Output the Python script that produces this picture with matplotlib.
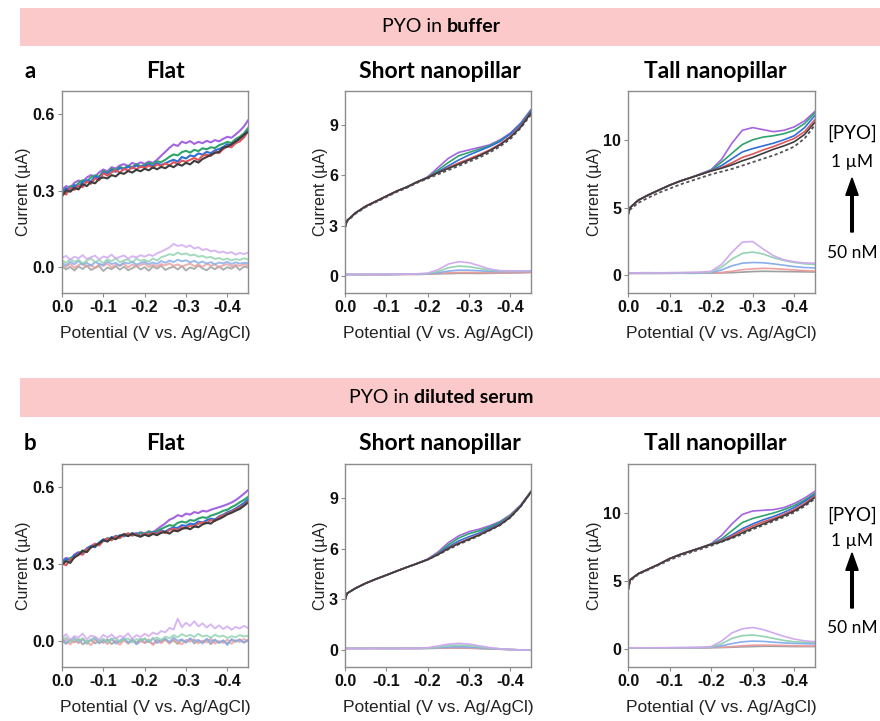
import numpy as np
import matplotlib.pyplot as plt
from matplotlib.patches import Rectangle, FancyArrow

plt.rcParams["axes.unicode_minus"] = False
plt.rcParams["font.family"] = ["Liberation Sans", "DejaVu Sans"]

W, H = 880, 721

# ---------------- data ----------------
# potential grid for flat electrodes (noisy traces, values in nA) and nanopillars (uA)
x_flat = np.linspace(0, -0.45, 46)
x_np = [0, -0.005, -0.025, -0.05, -0.075, -0.1, -0.125, -0.15, -0.175, -0.2,
        -0.225, -0.25, -0.275, -0.3, -0.325, -0.35, -0.375, -0.4, -0.425, -0.45]

conc = ["50 nM", "100 nM", "250 nM", "500 nM", "1 \u00b5M"]
colors_up = ["#3d3d3d", "#e0555a", "#2f6fd8", "#2ea36b", "#a564e0"]
colors_low = ["#9a9a9a", "#ee9b9b", "#82aaea", "#8ed1ad", "#cfa6ef"]

# --- a: buffer, flat (nA)
fa_up_50 = [278, 302, 296, 311, 305, 326, 318, 334, 329, 347, 352, 348, 361, 356, 370, 366, 377, 371, 382, 376,
            386, 380, 391, 384, 393, 388, 399, 392, 404, 398, 409, 403, 417, 410, 424, 432, 440, 448, 452, 468,
            472, 482, 492, 505, 518, 530]
fa_up_100 = [292, 285, 311, 303, 320, 314, 336, 327, 348, 341, 368, 359, 372, 380, 371, 386, 379, 392, 384, 395,
             390, 398, 389, 403, 396, 407, 399, 412, 405, 418, 413, 421, 428, 420, 437, 441, 436, 452, 447, 463,
             474, 470, 486, 493, 508, 532]
fa_up_250 = [296, 310, 302, 322, 316, 333, 341, 336, 355, 349, 372, 365, 381, 374, 389, 383, 394, 388, 399, 392,
             397, 403, 396, 408, 401, 407, 415, 421, 414, 432, 426, 438, 434, 446, 441, 452, 447, 458, 463, 471,
             482, 478, 494, 502, 516, 537]
fa_up_500 = [300, 292, 318, 311, 330, 341, 336, 352, 360, 355, 377, 370, 386, 381, 393, 387, 398, 392, 404, 396,
             401, 409, 405, 415, 412, 421, 433, 442, 438, 451, 456, 449, 460, 455, 466, 462, 470, 467, 478, 484,
             491, 487, 502, 511, 524, 545]
fa_up_1000 = [305, 318, 312, 331, 340, 334, 352, 361, 356, 372, 383, 376, 392, 387, 399, 404, 396, 409, 402, 411,
              405, 414, 409, 421, 437, 452, 468, 481, 475, 492, 486, 494, 483, 491, 486, 495, 489, 498, 493, 503,
              511, 507, 520, 534, 551, 575]
fa_low_50 = [5, -8, 2, -12, 4, -6, 8, -10, -2, 6, -14, 0, -7, 5, -9, 3, -11, -3, 6, -8, 1, -13, 4, -5, 7, -10,
             -2, 3, -8, 5, -12, 0, -6, 8, -4, -11, 2, -7, 4, -9, 1, -5, 6, -10, 3, 0]
fa_low_100 = [10, 2, 14, -1, 9, 16, 3, 11, -2, 13, 6, 15, 1, 10, 7, 14, 0, 12, 5, 9, 15, 2, 11, 4, 13, 8, 16, 6,
              12, 3, 10, 15, 5, 11, 2, 14, 7, 12, 0, 9, 13, 4, 10, 6, 12, 8]
fa_low_250 = [18, 8, 22, 12, 25, 10, 19, 6, 21, 14, 9, 24, 13, 18, 7, 20, 15, 23, 11, 17, 22, 12, 19, 14, 25, 18,
              27, 21, 30, 24, 28, 20, 26, 17, 23, 15, 21, 12, 19, 16, 22, 13, 20, 15, 18, 17]
fa_low_500 = [28, 18, 33, 22, 30, 15, 27, 35, 21, 29, 17, 32, 24, 36, 20, 28, 31, 19, 34, 26, 30, 22, 35, 27, 40,
              45, 52, 48, 58, 51, 55, 47, 50, 42, 45, 38, 41, 33, 37, 30, 35, 27, 33, 29, 36, 31]
fa_low_1000 = [38, 45, 30, 42, 36, 48, 33, 40, 46, 31, 43, 38, 50, 35, 41, 47, 34, 44, 39, 48, 42, 50, 45, 55, 62,
               70, 78, 92, 84, 88, 80, 86, 74, 79, 68, 72, 63, 66, 58, 62, 55, 60, 50, 57, 52, 58]

# --- a: buffer, short nanopillar (uA)
sa_blank = [2.85, 3.25, 3.7, 4.1, 4.4, 4.7, 5.0, 5.25, 5.55, 5.8, 6.05, 6.3, 6.55, 6.8, 7.05, 7.35, 7.7, 8.15, 8.8, 9.6]
sa_up_50 = [2.9, 3.3, 3.75, 4.15, 4.45, 4.75, 5.05, 5.3, 5.6, 5.85, 6.15, 6.4, 6.65, 6.9, 7.15, 7.45, 7.8, 8.25, 8.85, 9.7]
sa_up_100 = [2.9, 3.3, 3.75, 4.15, 4.45, 4.75, 5.05, 5.3, 5.6, 5.85, 6.15, 6.45, 6.72, 6.97, 7.22, 7.5, 7.85, 8.3, 8.9, 9.72]
sa_up_250 = [2.9, 3.3, 3.75, 4.15, 4.45, 4.75, 5.05, 5.3, 5.6, 5.85, 6.2, 6.55, 6.9, 7.2, 7.45, 7.7, 8.0, 8.45, 9.0, 9.8]
sa_up_500 = [2.9, 3.3, 3.75, 4.15, 4.45, 4.75, 5.05, 5.3, 5.6, 5.87, 6.3, 6.75, 7.15, 7.35, 7.55, 7.75, 8.05, 8.45, 9.05, 9.85]
sa_up_1000 = [2.9, 3.3, 3.75, 4.15, 4.45, 4.75, 5.05, 5.3, 5.6, 5.9, 6.45, 7.0, 7.35, 7.5, 7.65, 7.8, 8.1, 8.5, 9.1, 9.9]
sa_low_50 = [0.08, 0.1, 0.1, 0.08, 0.1, 0.09, 0.1, 0.11, 0.1, 0.12, 0.14, 0.15, 0.17, 0.17, 0.16, 0.17, 0.18, 0.19, 0.2, 0.22]
sa_low_100 = [0.08, 0.1, 0.09, 0.1, 0.08, 0.1, 0.11, 0.1, 0.12, 0.13, 0.16, 0.2, 0.22, 0.22, 0.21, 0.2, 0.2, 0.21, 0.22, 0.23]
sa_low_250 = [0.1, 0.1, 0.09, 0.11, 0.1, 0.1, 0.1, 0.12, 0.13, 0.14, 0.2, 0.3, 0.36, 0.35, 0.32, 0.28, 0.27, 0.27, 0.28, 0.28]
sa_low_500 = [0.1, 0.11, 0.1, 0.1, 0.11, 0.1, 0.12, 0.12, 0.13, 0.16, 0.27, 0.5, 0.6, 0.56, 0.46, 0.36, 0.31, 0.3, 0.3, 0.31]
sa_low_1000 = [0.12, 0.11, 0.1, 0.12, 0.1, 0.11, 0.12, 0.13, 0.14, 0.18, 0.38, 0.72, 0.86, 0.8, 0.62, 0.42, 0.33, 0.31, 0.32, 0.32]

# --- a: buffer, tall nanopillar (uA)
ta_blank = [4.4, 4.85, 5.35, 5.75, 6.1, 6.4, 6.7, 6.95, 7.2, 7.45, 7.65, 7.85, 8.1, 8.35, 8.6, 8.85, 9.15, 9.5, 10.1, 11.1]
ta_up_50 = [4.5, 5.0, 5.55, 5.95, 6.3, 6.65, 6.95, 7.2, 7.45, 7.7, 7.9, 8.15, 8.45, 8.7, 9.0, 9.3, 9.55, 9.85, 10.4, 11.3]
ta_up_100 = [4.5, 5.0, 5.55, 5.95, 6.3, 6.65, 6.95, 7.2, 7.45, 7.7, 7.95, 8.3, 8.7, 8.95, 9.25, 9.5, 9.8, 10.1, 10.6, 11.5]
ta_up_250 = [4.5, 5.0, 5.55, 5.95, 6.3, 6.65, 6.95, 7.2, 7.45, 7.72, 8.1, 8.6, 9.1, 9.35, 9.55, 9.75, 10.0, 10.3, 10.9, 11.8]
ta_up_500 = [4.5, 5.0, 5.55, 5.95, 6.3, 6.65, 6.95, 7.2, 7.47, 7.75, 8.35, 9.0, 9.65, 10.0, 10.2, 10.3, 10.45, 10.7, 11.2, 12.0]
ta_up_1000 = [4.4, 5.0, 5.55, 5.95, 6.3, 6.65, 6.95, 7.2, 7.5, 7.8, 8.55, 9.75, 10.7, 10.9, 10.75, 10.6, 10.7, 10.95, 11.4, 12.1]
ta_low_50 = [0.12, 0.14, 0.15, 0.14, 0.15, 0.15, 0.16, 0.15, 0.16, 0.17, 0.18, 0.2, 0.24, 0.28, 0.3, 0.29, 0.28, 0.27, 0.26, 0.25]
ta_low_100 = [0.14, 0.15, 0.15, 0.16, 0.15, 0.16, 0.16, 0.17, 0.17, 0.18, 0.22, 0.3, 0.42, 0.48, 0.52, 0.5, 0.45, 0.4, 0.35, 0.32]
ta_low_250 = [0.15, 0.16, 0.16, 0.17, 0.16, 0.17, 0.18, 0.18, 0.19, 0.2, 0.4, 0.7, 0.9, 0.95, 0.93, 0.85, 0.75, 0.65, 0.58, 0.55]
ta_low_500 = [0.16, 0.17, 0.18, 0.17, 0.18, 0.19, 0.19, 0.2, 0.21, 0.25, 0.6, 1.2, 1.62, 1.72, 1.58, 1.3, 1.1, 0.95, 0.85, 0.8]
ta_low_1000 = [0.17, 0.18, 0.19, 0.2, 0.19, 0.2, 0.21, 0.22, 0.24, 0.3, 0.8, 1.7, 2.45, 2.5, 1.95, 1.45, 1.15, 1.0, 0.92, 0.9]

# --- b: diluted serum, flat (nA)
fb_up_50 = [298, 312, 305, 327, 336, 352, 347, 366, 372, 381, 394, 388, 403, 397, 410, 416, 409, 418, 412, 407,
            415, 409, 418, 413, 422, 426, 419, 431, 428, 437, 442, 436, 447, 444, 455, 461, 458, 470, 476, 484,
            494, 500, 508, 515, 527, 540]
fb_up_100 = [304, 296, 318, 325, 341, 337, 358, 364, 379, 373, 392, 399, 393, 408, 402, 414, 420, 411, 417, 408,
             419, 414, 422, 417, 428, 421, 433, 438, 432, 444, 439, 450, 446, 458, 463, 459, 472, 468, 483, 490,
             497, 504, 512, 521, 530, 543]
fb_up_250 = [308, 320, 315, 334, 345, 340, 361, 370, 366, 385, 397, 391, 406, 400, 413, 408, 419, 413, 421, 410,
             420, 415, 426, 420, 431, 427, 437, 443, 441, 452, 449, 458, 455, 466, 462, 471, 477, 474, 486, 493,
             502, 508, 517, 527, 538, 552]
fb_up_500 = [306, 317, 324, 331, 339, 354, 348, 368, 375, 382, 390, 401, 395, 409, 404, 417, 411, 421, 414, 422,
             418, 427, 421, 430, 437, 445, 452, 449, 461, 466, 462, 472, 469, 478, 483, 480, 489, 494, 500, 508,
             512, 522, 530, 541, 550, 562]
fb_up_1000 = [312, 325, 318, 338, 347, 343, 362, 371, 380, 376, 392, 401, 397, 411, 406, 418, 413, 422, 416, 425,
              419, 428, 424, 436, 448, 459, 473, 480, 491, 486, 497, 493, 503, 499, 508, 505, 512, 517, 522, 527,
              533, 540, 549, 561, 574, 588]
fb_low_50 = [2, -10, 6, -4, 9, -12, 0, 5, -8, 3, -6, 8, -11, 1, -3, 7, -9, 4, -5, 10, -7, 2, -12, 6, -2, 8, -6, 3,
             -10, 5, -4, 9, -8, 1, -3, 7, -11, 4, -6, 2, -9, 5, -2, 8, -5, 3]
fb_low_100 = [-5, 8, -12, 4, -8, 10, -3, -15, 6, -7, 2, -11, 7, -4, -13, 3, -6, 9, -10, 0, -5, 8, -14, 2, -7, 5,
              -9, 10, -4, -12, 6, -2, 8, -8, 3, -5, 11, -9, 1, -6, 7, -10, 4, -3, 9, 0]
fb_low_250 = [10, -6, 4, 15, -3, 8, -10, 5, 12, -8, 6, -2, 11, -9, 3, 14, -5, 7, -12, 2, 9, -4, 13, -7, 4, 10, -3,
              15, 2, 8, -5, 12, 0, 6, -9, 10, -2, 7, -6, 4, -15, 9, 1, 5, -4, 6]
fb_low_500 = [5, 14, -3, 9, 2, 12, -6, 7, 16, 0, 10, -4, 8, 13, -2, 6, 11, -5, 9, 3, 12, 0, 8, 15, 5, 18, 12, 24,
              16, 28, 20, 25, 17, 29, 19, 23, 14, 26, 18, 22, 13, 20, 16, 24, 19, 21]
fb_low_1000 = [12, 28, 5, 20, 15, 30, 8, 22, 18, 6, 25, 14, 27, 10, 21, 16, 31, 9, 24, 17, 29, 20, 34, 27, 40, 35,
               52, 46, 88, 55, 72, 60, 78, 58, 70, 54, 66, 50, 62, 48, 58, 45, 56, 50, 60, 52]

# --- b: diluted serum, short nanopillar (uA)
sb_blank = [2.95, 3.35, 3.65, 3.95, 4.2, 4.43, 4.67, 4.9, 5.12, 5.35, 5.63, 5.95, 6.25, 6.5, 6.77, 7.07, 7.38, 7.83, 8.48, 9.33]
sb_up_50 = [2.95, 3.35, 3.65, 3.95, 4.2, 4.43, 4.67, 4.9, 5.12, 5.35, 5.65, 6.0, 6.3, 6.55, 6.8, 7.1, 7.4, 7.85, 8.5, 9.35]
sb_up_100 = [2.95, 3.35, 3.65, 3.95, 4.2, 4.43, 4.67, 4.9, 5.12, 5.35, 5.65, 6.02, 6.33, 6.58, 6.83, 7.12, 7.42, 7.87, 8.5, 9.35]
sb_up_250 = [2.95, 3.35, 3.65, 3.95, 4.2, 4.43, 4.67, 4.9, 5.12, 5.35, 5.68, 6.1, 6.45, 6.7, 6.92, 7.2, 7.48, 7.9, 8.52, 9.36]
sb_up_500 = [2.95, 3.35, 3.65, 3.95, 4.2, 4.43, 4.67, 4.9, 5.12, 5.36, 5.72, 6.22, 6.62, 6.88, 7.05, 7.28, 7.55, 7.95, 8.55, 9.37]
sb_up_1000 = [2.95, 3.35, 3.65, 3.95, 4.2, 4.43, 4.67, 4.9, 5.13, 5.38, 5.8, 6.35, 6.75, 7.0, 7.15, 7.35, 7.6, 8.0, 8.58, 9.38]
sb_low_50 = [0.1, 0.1, 0.09, 0.1, 0.1, 0.09, 0.1, 0.1, 0.09, 0.1, 0.11, 0.12, 0.12, 0.11, 0.09, 0.07, 0.05, 0.03, 0.01, 0.0]
sb_low_100 = [0.1, 0.09, 0.1, 0.1, 0.09, 0.1, 0.1, 0.09, 0.1, 0.1, 0.12, 0.13, 0.14, 0.13, 0.1, 0.07, 0.05, 0.03, 0.01, 0.0]
sb_low_250 = [0.1, 0.1, 0.1, 0.09, 0.1, 0.1, 0.09, 0.1, 0.1, 0.11, 0.14, 0.18, 0.2, 0.18, 0.13, 0.09, 0.06, 0.03, 0.01, -0.01]
sb_low_500 = [0.1, 0.1, 0.1, 0.1, 0.1, 0.09, 0.1, 0.1, 0.11, 0.12, 0.18, 0.26, 0.3, 0.27, 0.19, 0.12, 0.07, 0.03, 0.01, -0.01]
sb_low_1000 = [0.1, 0.1, 0.1, 0.1, 0.1, 0.1, 0.1, 0.11, 0.12, 0.14, 0.24, 0.35, 0.4, 0.36, 0.25, 0.15, 0.08, 0.04, 0.01, -0.01]

# --- b: diluted serum, tall nanopillar (uA)
tb_blank = [4.3, 5.0, 5.5, 5.85, 6.2, 6.55, 6.85, 7.1, 7.35, 7.6, 7.88, 8.15, 8.45, 8.8, 9.1, 9.4, 9.7, 10.05, 10.5, 11.05]
tb_up_50 = [4.3, 5.1, 5.55, 5.9, 6.25, 6.65, 6.95, 7.2, 7.45, 7.7, 7.9, 8.2, 8.55, 8.9, 9.2, 9.5, 9.8, 10.15, 10.6, 11.15]
tb_up_100 = [4.3, 5.1, 5.55, 5.9, 6.25, 6.65, 6.95, 7.2, 7.45, 7.7, 7.95, 8.3, 8.7, 9.05, 9.35, 9.6, 9.9, 10.25, 10.7, 11.25]
tb_up_250 = [4.3, 5.1, 5.55, 5.9, 6.25, 6.65, 6.95, 7.2, 7.45, 7.7, 8.0, 8.4, 8.85, 9.2, 9.5, 9.75, 10.05, 10.4, 10.85, 11.35]
tb_up_500 = [4.3, 5.1, 5.55, 5.9, 6.25, 6.65, 6.95, 7.2, 7.45, 7.72, 8.1, 8.7, 9.3, 9.6, 9.8, 10.0, 10.25, 10.55, 10.95, 11.45]
tb_up_1000 = [4.3, 5.1, 5.55, 5.9, 6.25, 6.65, 6.95, 7.2, 7.45, 7.75, 8.35, 9.2, 9.9, 10.15, 10.2, 10.25, 10.4, 10.7, 11.1, 11.6]
tb_low_50 = [0.08, 0.1, 0.1, 0.09, 0.1, 0.1, 0.11, 0.1, 0.1, 0.12, 0.13, 0.15, 0.18, 0.2, 0.22, 0.22, 0.21, 0.2, 0.2, 0.2]
tb_low_100 = [0.09, 0.1, 0.1, 0.1, 0.1, 0.11, 0.1, 0.11, 0.11, 0.12, 0.15, 0.2, 0.26, 0.3, 0.31, 0.3, 0.28, 0.26, 0.25, 0.25]
tb_low_250 = [0.1, 0.1, 0.11, 0.1, 0.11, 0.1, 0.11, 0.12, 0.12, 0.14, 0.25, 0.42, 0.55, 0.6, 0.58, 0.52, 0.47, 0.43, 0.41, 0.4]
tb_low_500 = [0.1, 0.11, 0.1, 0.11, 0.1, 0.11, 0.12, 0.12, 0.13, 0.16, 0.4, 0.8, 1.0, 1.05, 0.95, 0.8, 0.65, 0.55, 0.52, 0.5]
tb_low_1000 = [0.1, 0.11, 0.11, 0.1, 0.11, 0.12, 0.12, 0.13, 0.14, 0.2, 0.6, 1.2, 1.5, 1.6, 1.45, 1.2, 0.95, 0.75, 0.62, 0.55]

panel_titles = ["Flat", "Short nanopillar", "Tall nanopillar"]
x_ticks = [0.0, -0.1, -0.2, -0.3, -0.4]


def px(x):
    return x / W


def py(y):
    return 1 - y / H


def draw_panel(ax, x, ups, lows, blank, ylim, yticks, ylabels, lw_up, lw_low, alpha_low):
    for y, c in zip(lows, colors_low):
        ax.plot(x, y, color=c, lw=lw_low, alpha=alpha_low)
    if blank is not None:
        ax.plot(x, blank, color="#555555", lw=1.3, ls=(0, (1.8, 1.4)))
    for i in [4, 3, 2, 1, 0]:
        ax.plot(x, ups[i], color=colors_up[i], lw=lw_up)
    ax.set_xlim(0, -0.45)
    ax.set_ylim(*ylim)
    ax.set_xticks(x_ticks)
    ax.set_xticklabels(["%.1f" % v for v in x_ticks], fontsize=11.5, fontweight="bold")
    ax.set_yticks(yticks)
    ax.set_yticklabels(ylabels, fontsize=11.5, fontweight="bold")
    ax.set_xlabel("Potential (V vs. Ag/AgCl)", fontsize=12.5, labelpad=8, color="#222222")
    ax.set_ylabel("Current (\u00b5A)", fontsize=11.5, labelpad=1, color="#222222")
    for s in ax.spines.values():
        s.set_color("#8c8c8c")
        s.set_linewidth(1.0)
    ax.tick_params(length=3, width=0.8, color="#8c8c8c", pad=2, labelcolor="#111111")


fig = plt.figure(figsize=(W / 100, H / 100), dpi=100)

rows = [
    dict(banner_y=(8, 46), label="a", medium="buffer", title_y=72, ax_y=(91, 293),
         flat=([fa_up_50, fa_up_100, fa_up_250, fa_up_500, fa_up_1000],
               [fa_low_50, fa_low_100, fa_low_250, fa_low_500, fa_low_1000]),
         short=([sa_up_50, sa_up_100, sa_up_250, sa_up_500, sa_up_1000],
                [sa_low_50, sa_low_100, sa_low_250, sa_low_500, sa_low_1000], sa_blank),
         tall=([ta_up_50, ta_up_100, ta_up_250, ta_up_500, ta_up_1000],
               [ta_low_50, ta_low_100, ta_low_250, ta_low_500, ta_low_1000], ta_blank),
         pyo_y=(133, 162, 232, 178, 253)),
    dict(banner_y=(378, 417), label="b", medium="diluted serum", title_y=444, ax_y=(464, 667),
         flat=([fb_up_50, fb_up_100, fb_up_250, fb_up_500, fb_up_1000],
               [fb_low_50, fb_low_100, fb_low_250, fb_low_500, fb_low_1000]),
         short=([sb_up_50, sb_up_100, sb_up_250, sb_up_500, sb_up_1000],
                [sb_low_50, sb_low_100, sb_low_250, sb_low_500, sb_low_1000], sb_blank),
         tall=([tb_up_50, tb_up_100, tb_up_250, tb_up_500, tb_up_1000],
               [tb_low_50, tb_low_100, tb_low_250, tb_low_500, tb_low_1000], tb_blank),
         pyo_y=(515, 541, 608, 553, 628)),
]

ax_x = [(62, 248), (345, 531), (628, 815)]
title_x = [165, 440, 715]
cal = ["Lato", "DejaVu Sans"]

for r in rows:
    # pink banner with mixed-weight title
    b0, b1 = r["banner_y"]
    fig.patches.append(Rectangle((px(20), py(b1)), px(880 - 20), (b1 - b0) / H,
                                 transform=fig.transFigure, facecolor="#fbc9c9", edgecolor="none"))
    yc = py((b0 + b1) / 2)
    t1 = fig.text(0, yc, "PYO in ", fontsize=14, family=cal, va="center", ha="left")
    t2 = fig.text(0, yc, r["medium"], fontsize=14, family=cal, fontweight="bold", va="center", ha="left")
    fig.canvas.draw()
    w1 = t1.get_window_extent().width
    w2 = t2.get_window_extent().width
    start = 441 - (w1 + w2) / 2
    t1.set_x(px(start))
    t2.set_x(px(start + w1))

    fig.text(px(30), py(r["title_y"]), r["label"], fontsize=16, fontweight="bold", family=cal,
             ha="center", va="center")
    for tx, tt in zip(title_x, panel_titles):
        fig.text(px(tx), py(r["title_y"]), tt, fontsize=16.5, fontweight="bold", family=cal,
                 ha="center", va="center")

    y0, y1 = r["ax_y"]
    axes = [fig.add_axes([px(x0), py(y1), px(x1 - x0), (y1 - y0) / H]) for (x0, x1) in ax_x]

    ups, lows = r["flat"]
    draw_panel(axes[0], x_flat, [np.array(u) / 1000 for u in ups], [np.array(l) / 1000 for l in lows], None,
               (-0.1, 0.69), [0.0, 0.3, 0.6], ["0.0", "0.3", "0.6"], 1.5, 1.4, 0.8)
    ups, lows, blank = r["short"]
    draw_panel(axes[1], x_np, ups, lows, blank, (-1.0, 11.0), [0, 3, 6, 9], ["0", "3", "6", "9"],
               1.2, 1.2, 0.95)
    ups, lows, blank = r["tall"]
    draw_panel(axes[2], x_np, ups, lows, blank, (-1.3, 13.6), [0, 5, 10], ["0", "5", "10"],
               1.2, 1.2, 0.95)

    # concentration arrow
    yp, y1m, ya0, ya1, y50 = r["pyo_y"]
    fig.text(px(852), py(yp), "[PYO]", fontsize=13.5, family=cal, ha="center", va="center")
    fig.text(px(852), py(y1m), "1 \u00b5M", fontsize=12.5, family=cal, ha="center", va="center")
    fig.text(px(852), py(y50), "50 nM", fontsize=12.5, family=cal, ha="center", va="center")
    fig.patches.append(FancyArrow(
        px(852), py(ya0), 0, (ya0 - ya1) / H, width=0.003, head_width=0.014, head_length=0.024,
        length_includes_head=True, transform=fig.transFigure, color="black"))

fig.savefig("out.png", dpi=100)
